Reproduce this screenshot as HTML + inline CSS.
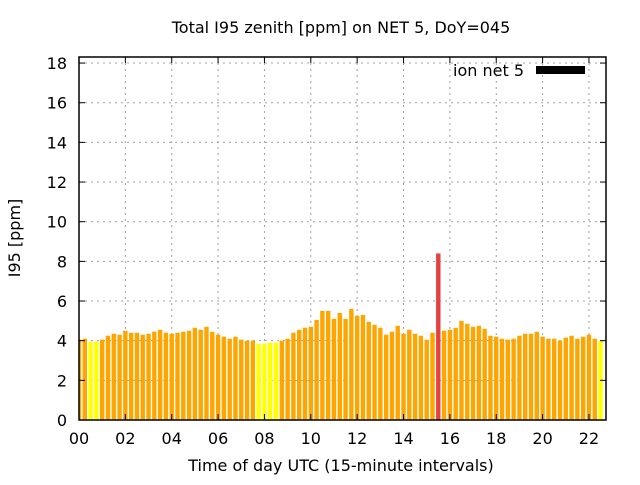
<!DOCTYPE html>
<html><head><meta charset="utf-8"><style>
body{margin:0;background:#fff;}
svg text{font-family:"DejaVu Sans","Liberation Sans",sans-serif;}
</style></head><body>
<svg id="chart" width="640" height="480" viewBox="0 0 640 480" xmlns="http://www.w3.org/2000/svg">
<rect width="640" height="480" fill="#fff"/>
<text x="341" y="33" font-size="16" text-anchor="middle">Total I95 zenith [ppm] on NET 5, DoY=045</text>
<g id="grid"></g>
<g id="bars"></g>
<g id="axes"></g>
<text x="20" y="238" font-size="16" text-anchor="middle" transform="rotate(-90 20 238)">I95 [ppm]</text>
<text x="341" y="471" font-size="16" text-anchor="middle">Time of day UTC (15-minute intervals)</text>
<g>
<text x="524" y="76" font-size="16" text-anchor="end">ion net 5</text>
<rect x="536" y="66" width="49" height="8" fill="#000"/>
</g>
</svg>
<script>
const values = [4.05,4.1,3.95,3.95,4.05,4.25,4.35,4.3,4.5,4.4,4.4,4.3,4.35,4.45,4.55,4.4,4.35,4.4,4.45,4.5,4.65,4.55,4.7,4.45,4.3,4.2,4.1,4.2,4.05,4.0,
4.0,3.85,3.85,3.9,3.9,4.0,4.1,4.4,4.55,4.65,4.7,5.05,5.5,5.5,5.1,5.4,5.1,5.6,5.25,5.3,4.95,4.8,4.65,4.3,4.45,4.75,4.35,4.55,4.35,4.25,
4.05,4.4,8.4,4.5,4.55,4.65,5.0,4.85,4.7,4.75,4.6,4.25,4.2,4.1,4.05,4.1,4.25,4.35,4.35,4.45,4.2,4.1,4.1,4.0,4.15,4.25,4.1,4.2,4.3,4.1,3.98];
const yTicks = [0,2,4,6,8,10,12,14,16,18];
const xTicks = ["00","02","04","06","08","10","12","14","16","18","20","22"];
const X0=79,X1=606,Y0=420,Y1=57;
const xs = h => X0 + h*23.18;
const ys = v => Y0 - v*19.83;
const NS="http://www.w3.org/2000/svg";
function mk(tag,attrs,parent){const e=document.createElementNS(NS,tag);for(const k in attrs)e.setAttribute(k,attrs[k]);parent.appendChild(e);return e;}
const grid=document.getElementById('grid'),bars=document.getElementById('bars'),axes=document.getElementById('axes');
yTicks.forEach(v=>{
  const y=ys(v);
  if(v>0){const l=mk('line',{x1:X0,x2:X1,y1:y,y2:y,stroke:'#a0a0a0','stroke-dasharray':'2,4'},grid);
  
  }
  mk('line',{x1:X0,x2:X0+6,y1:y,y2:y,stroke:'#000'},axes);
  mk('line',{x1:X1,x2:X1-6,y1:y,y2:y,stroke:'#000'},axes);
  const t=mk('text',{x:X0-12,y:y+6,'font-size':'16','text-anchor':'end'},axes);
  t.textContent=v;
  
  
});
xTicks.forEach(s=>{
  const x=xs(parseInt(s,10));
  if(x>X0+1){const l=mk('line',{x1:x,x2:x,y1:Y1,y2:Y0,stroke:'#a0a0a0','stroke-dasharray':'2,4'},grid);
  
  }
  mk('line',{x1:x,x2:x,y1:Y0,y2:Y0-6,stroke:'#000'},axes);
  mk('line',{x1:x,x2:x,y1:Y1,y2:Y1+6,stroke:'#000'},axes);
  const t=mk('text',{x:x,y:Y0+24,'font-size':'16','text-anchor':'middle'},axes);
  t.textContent=s;
  
  
});
values.forEach((v,i)=>{
  const c=xs(i*0.25);
  const x=Math.max(X0,c-2.2), x2=Math.min(X1,c+2.2);
  const col = v>8 ? '#e84040' : (v<4 ? '#ffff00' : '#ffa500');
  const r=mk('rect',{x:x,y:ys(v),width:x2-x,height:Y0-ys(v),fill:col},bars);
  
  
});
const b=mk('rect',{x:X0,y:Y1,width:X1-X0,height:Y0-Y1,fill:'none',stroke:'#000','stroke-width':'1.5'},axes);


</script>
</body></html>
